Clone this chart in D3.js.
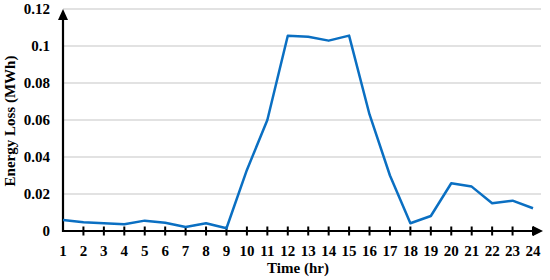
<!DOCTYPE html>
<html><head><meta charset="utf-8">
<script src="https://cdn.jsdelivr.net/npm/d3@7"></script>
<style>body{margin:0;background:#fff}svg{display:block}
text{font-family:"Liberation Serif","Times New Roman",serif;font-weight:bold;font-size:15px}</style>
</head><body><svg id="c" width="550" height="280"></svg>
<script>
const hours = d3.range(1, 25);
const energyLoss = [0.0059,0.0047,0.0042,0.0036,0.0056,0.0045,0.0022,0.0042,0.0015,0.033,0.060,0.1055,0.105,0.1029,0.1056,0.063,0.030,0.0042,0.0081,0.0258,0.024,0.015,0.0164,0.0123];
const yTicks = [0,0.02,0.04,0.06,0.08,0.1,0.12];
const yLabels = ["0","0.02","0.04","0.06","0.08","0.1","0.12"];
const xTitle = "Time (hr)", yTitle = "Energy Loss (MWh)";

const svg = d3.select("#c");
const x = d3.scaleLinear().domain([1,24]).range([63,533]);
const y = d3.scaleLinear().domain([0,0.12]).range([231,9]);

svg.append("g").selectAll("line").data(yTicks.slice(1)).join("line")
  .attr("x1",63).attr("x2",541).attr("y1",d=>y(d)).attr("y2",d=>y(d))
  .attr("stroke","#d9d9d9").attr("stroke-width",1.3);

svg.append("g").selectAll("text").data(yTicks).join("text")
  .attr("x",50).attr("y",d=>y(d)+5).attr("text-anchor","end")
  .text((d,i)=>yLabels[i]);

svg.append("g").selectAll("line").data(hours.slice(1)).join("line")
  .attr("x1",d=>x(d)).attr("x2",d=>x(d)).attr("y1",226.5).attr("y2",235.5)
  .attr("stroke","#000").attr("stroke-width",2);
svg.append("g").selectAll("text").data(hours).join("text")
  .attr("x",d=>x(d)).attr("y",256).attr("text-anchor","middle")
  .text(d=>d);

svg.append("line").attr("x1",63).attr("x2",538).attr("y1",231).attr("y2",231).attr("stroke","#000").attr("stroke-width",2.2);
svg.append("path").attr("d","M543,231 L533,226 L533,236 Z").attr("fill","#000");
svg.append("line").attr("x1",63).attr("x2",63).attr("y1",232).attr("y2",16).attr("stroke","#000").attr("stroke-width",2.2);
svg.append("path").attr("d","M63,9 L58,20 L68,20 Z").attr("fill","#000");

svg.append("path").datum(energyLoss)
  .attr("d", d3.line().x((d,i)=>x(hours[i])).y(d=>y(d)))
  .attr("fill","none").attr("stroke","#0a6fc2").attr("stroke-width",2.5).attr("stroke-linejoin","round");

svg.append("text").attr("x",298).attr("y",273).attr("text-anchor","middle").text(xTitle);
svg.append("text").attr("transform","translate(15,121) rotate(-90)").attr("text-anchor","middle").text(yTitle);
</script></body></html>
